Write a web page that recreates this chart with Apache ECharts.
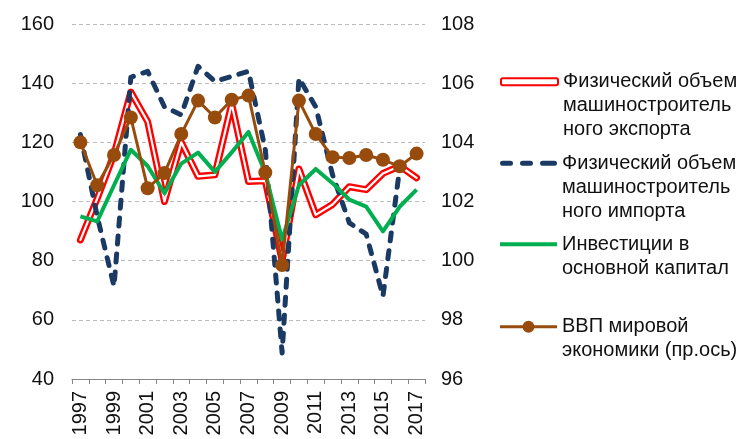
<!DOCTYPE html>
<html><head><meta charset="utf-8">
<script src="https://cdn.jsdelivr.net/npm/echarts@6/dist/echarts.min.js"></script>
<style>html,body{margin:0;padding:0;background:#fff}#c{width:747px;height:439px}</style>
</head><body><div id="c"></div>
<script>
const years = ['1997','1998','1999','2000','2001','2002','2003','2004','2005','2006','2007','2008','2009','2010','2011','2012','2013','2014','2015','2016','2017'];
const exportVolume = [87, 101, 116, 137, 127, 100, 120, 108.5, 109, 133, 106.8, 107, 80, 111, 95.5, 99, 105, 104, 109.5, 112, 108];
const importVolume = [122.6, 95, 71.3, 142, 144, 132, 129.3, 145.7, 140.6, 142.3, 144, 117.5, 48.8, 141.7, 132, 109, 92.8, 89, 68, 111.5, null];
const investment = [95, 93.3, 105.5, 117.5, 112, 102.8, 112.8, 116.5, 110, 116.6, 123.5, 109.6, 87.1, 105.5, 111, 106.2, 100.6, 98.3, 89.9, 98.3, 104];
const worldGdp = [104.0, 102.55, 103.57, 104.84, 102.45, 102.96, 104.28, 105.41, 104.84, 105.44, 105.58, 102.98, 99.85, 105.41, 104.28, 103.5, 103.47, 103.57, 103.41, 103.19, 103.62];
const leftAxisTicks = [40, 60, 80, 100, 120, 140, 160];
const rightAxisTicks = [96, 98, 100, 102, 104, 106, 108];
const seriesNames = [
  'Физический объем\nмашиностроитель\nного экспорта',
  'Физический объем\nмашиностроитель\nного импорта',
  'Инвестиции в\nосновной капитал',
  'ВВП мировой\nэкономики (пр.ось)'
];

const FONT = 'Liberation Sans, Arial, sans-serif';
const TXT = '#111';
const RED = '#ff0000', NAVY = '#1b3a63', GREEN = '#00b050', BROWN = '#974b0c';
const LH = 24;

// Leading blank lines so that the first text line sits level with the icon
function padLines(name) {
  const n = name.split('\n').length;
  return '\n'.repeat(n - 1) + name;
}

function legendFor(name, iconY, itemHeight, icon, itemStyle) {
  const n = name.split('\n').length;
  const total = (2 * n - 1) * LH;
  return {
    orient: 'vertical', left: 500, top: iconY - total / 2, padding: 0, itemGap: 0,
    itemWidth: 57, itemHeight: itemHeight, symbolKeepAspect: false,
    selectedMode: false,
    data: [{ name: name, icon: icon, itemStyle: itemStyle }],
    formatter: padLines,
    textStyle: { fontSize: 20, lineHeight: LH, color: TXT, fontFamily: FONT }
  };
}

const chart = echarts.init(document.getElementById('c'), null, { renderer: 'canvas' });
chart.setOption({
  animation: false,
  backgroundColor: '#fff',
  grid: { left: 72, right: 322, top: 24, bottom: 60 },
  legend: [
    legendFor(seriesNames[0], 81.7, 7, 'roundRect',
      { color: '#fff', borderColor: RED, borderWidth: 2 }),
    legendFor(seriesNames[1], 163.3, 5,
      'path://M2.5,0H10.5A2.5,2.5 0 0 1 10.5,5H2.5A2.5,2.5 0 0 1 2.5,0z M22.5,0H30.5A2.5,2.5 0 0 1 30.5,5H22.5A2.5,2.5 0 0 1 22.5,0z M42.5,0H54.5A2.5,2.5 0 0 1 54.5,5H42.5A2.5,2.5 0 0 1 42.5,0z',
      { color: NAVY }),
    legendFor(seriesNames[2], 244.3, 4, 'rect', { color: GREEN }),
    legendFor(seriesNames[3], 326.7, 12,
      'path://M0,4.5H57V7.5H0z M34.5,6A6,6 0 1 1 22.5,6A6,6 0 1 1 34.5,6z',
      { color: BROWN })
  ],
  xAxis: {
    type: 'category', data: years, boundaryGap: true,
    axisLine: { show: true, lineStyle: { color: '#868686', width: 1 } },
    axisTick: { show: true, interval: 0, length: 5, lineStyle: { color: '#868686' } },
    axisLabel: { rotate: 90, interval: 1, fontSize: 20, color: TXT, fontFamily: FONT, margin: 12 },
    splitLine: { show: false }
  },
  yAxis: [
    {
      type: 'value', min: leftAxisTicks[0], max: leftAxisTicks[leftAxisTicks.length - 1],
      interval: leftAxisTicks[1] - leftAxisTicks[0],
      axisLine: { show: false }, axisTick: { show: false },
      axisLabel: { fontSize: 20, color: TXT, fontFamily: FONT, margin: 18 },
      splitLine: { show: true, lineStyle: { color: '#bdbdbd', width: 1, type: [4, 3] } }
    },
    {
      type: 'value', min: rightAxisTicks[0], max: rightAxisTicks[rightAxisTicks.length - 1],
      interval: rightAxisTicks[1] - rightAxisTicks[0],
      axisLine: { show: false }, axisTick: { show: false },
      axisLabel: { fontSize: 20, color: TXT, fontFamily: FONT, margin: 16 },
      splitLine: { show: false }
    }
  ],
  series: [
    { name: seriesNames[0], type: 'line', data: exportVolume, yAxisIndex: 0, symbol: 'none',
      lineStyle: { color: RED, width: 7, join: 'round', cap: 'round' }, itemStyle: { color: RED }, z: 2 },
    { name: 'exportInner', type: 'line', data: exportVolume, yAxisIndex: 0, symbol: 'none', silent: true,
      lineStyle: { color: '#fff', width: 2.2, join: 'round', cap: 'round' }, itemStyle: { color: '#fff' }, z: 2 },
    { name: seriesNames[1], type: 'line', data: importVolume, yAxisIndex: 0, symbol: 'none',
      lineStyle: { color: NAVY, width: 5, type: [8, 10], cap: 'round', join: 'round' }, itemStyle: { color: NAVY }, z: 3 },
    { name: seriesNames[2], type: 'line', data: investment, yAxisIndex: 0, symbol: 'none',
      lineStyle: { color: GREEN, width: 4, join: 'round' }, itemStyle: { color: GREEN }, z: 4 },
    { name: seriesNames[3], type: 'line', data: worldGdp, yAxisIndex: 1, symbol: 'circle', symbolSize: 14,
      showAllSymbol: true,
      lineStyle: { color: BROWN, width: 3 }, itemStyle: { color: BROWN }, z: 5 }
  ]
});
</script>
</body></html>
